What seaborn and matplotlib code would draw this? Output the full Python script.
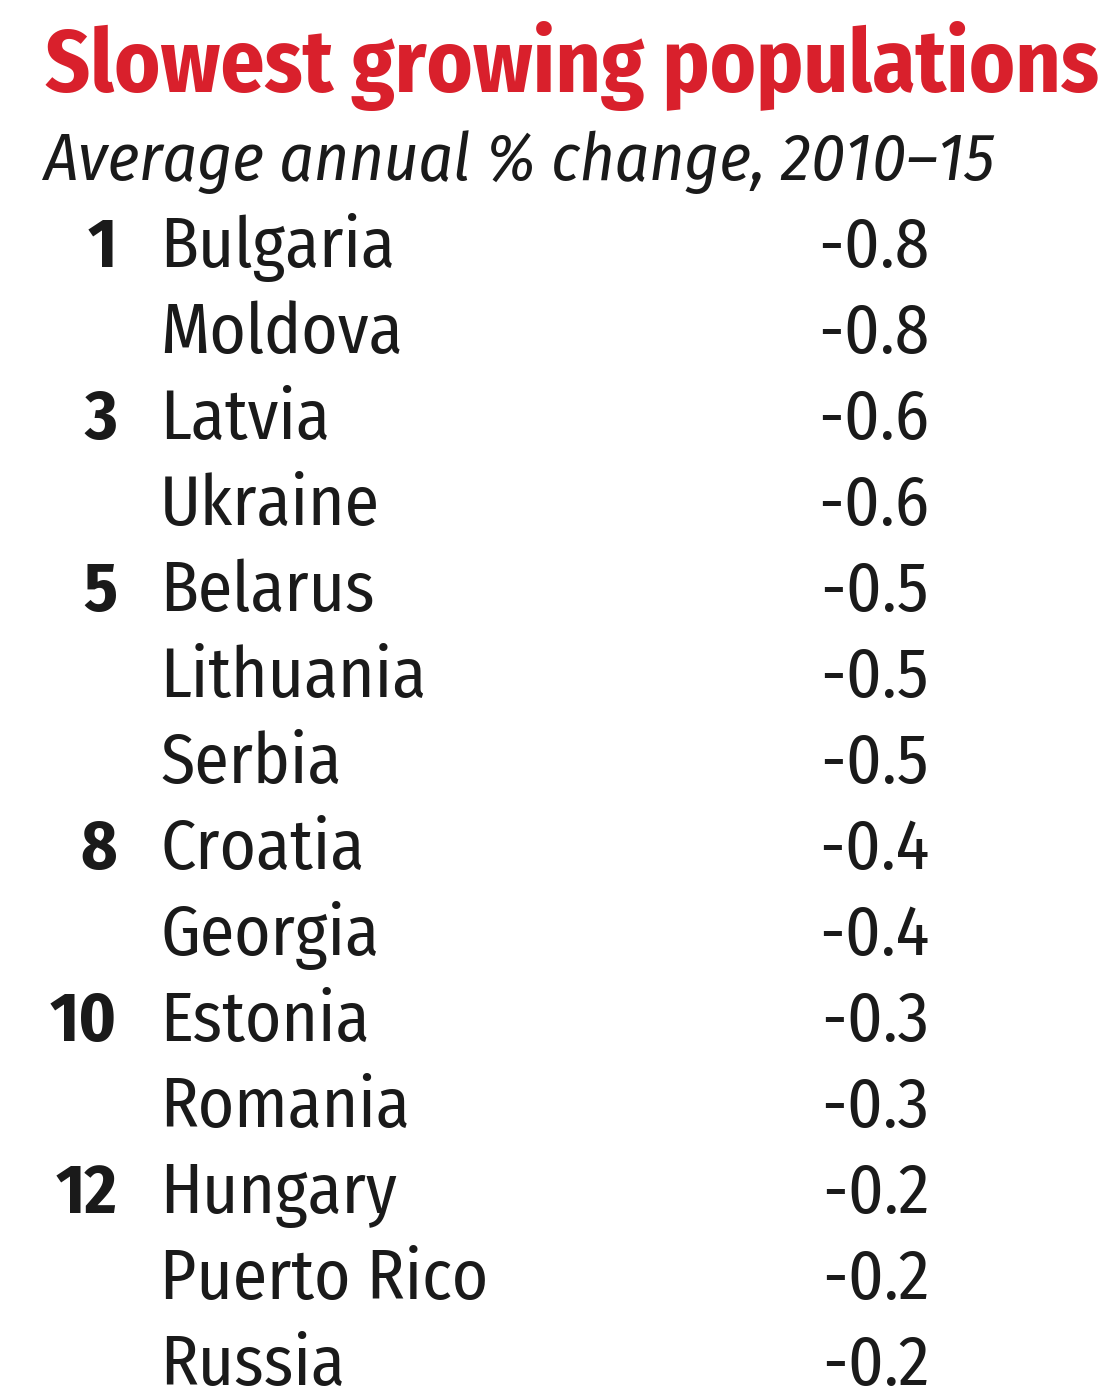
import matplotlib
matplotlib.use("Agg")
import matplotlib.pyplot as plt
import seaborn as sns

# data
ranks = ["1", "", "3", "", "5", "", "", "8", "", "10", "", "12", "", ""]
countries = ["Bulgaria", "Moldova", "Latvia", "Ukraine", "Belarus", "Lithuania", "Serbia",
             "Croatia", "Georgia", "Estonia", "Romania", "Hungary", "Puerto Rico", "Russia"]
values = [-0.8, -0.8, -0.6, -0.6, -0.5, -0.5, -0.5, -0.4, -0.4, -0.3, -0.3, -0.2, -0.2, -0.2]

title = "Slowest growing populations"
subtitle = "Average annual % change, 2010\u201315"

sns.set_theme(style="white")
FONT = ["Fira Sans Condensed", "Liberation Sans Narrow", "DejaVu Sans"]
plt.rcParams["font.family"] = FONT

RED = "#d9202c"
INK = "#1a1a1a"
W, H = 1118, 1398

fig = plt.figure(figsize=(W / 100, H / 100), dpi=100)
ax = fig.add_axes([0, 0, 1, 1])
ax.set_xlim(0, W)
# one unit per row, row baseline at 267px + 86px * i
ax.set_ylim((H - 267) / 86, -267 / 86)
ax.axis("off")

renderer = fig.canvas.get_renderer()


def fit(txt, target_w):
    # shrink/grow font so text spans target width in px
    bb = txt.get_window_extent(renderer=renderer)
    txt.set_fontsize(txt.get_fontsize() * target_w / bb.width)


t = fig.text(45 / W, 1 - 92 / H, title, color=RED, fontsize=60, fontweight="bold",
             ha="left", va="baseline")
fit(t, 1055)
s = fig.text(43 / W, 1 - 180 / H, subtitle, color=INK, fontsize=46, fontstyle="italic",
             ha="left", va="baseline")
fit(s, 952)

for i, (r, c, v) in enumerate(zip(ranks, countries, values)):
    if r:
        ax.text(117, i, r, color=INK, fontsize=50, fontweight="bold", ha="right", va="baseline")
    ax.text(160, i, c, color=INK, fontsize=50, ha="left", va="baseline")
    ax.text(929, i, f"{v:.1f}", color=INK, fontsize=50, ha="right", va="baseline")

fig.savefig("out.png", dpi=100, facecolor="white")
